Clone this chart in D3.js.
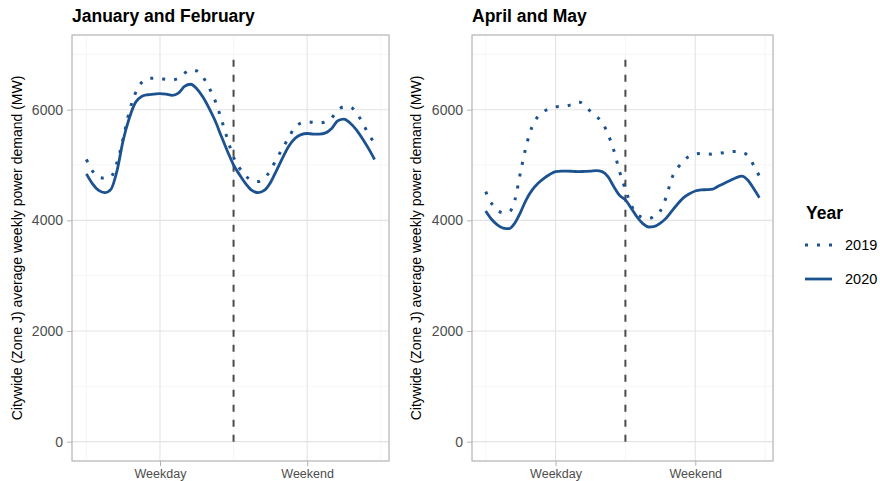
<!DOCTYPE html>
<html>
<head>
<meta charset="utf-8">
<script src="https://cdn.jsdelivr.net/npm/d3@7"></script>
<style>
  html, body { margin: 0; padding: 0; background: #fff; }
  svg { display: block; font-family: "Liberation Sans", Arial, Helvetica, sans-serif; }
</style>
</head>
<body>
<svg id="chart" width="880" height="481"></svg>
<script>
// ---------------- DATA ----------------
const hours = d3.range(0, 48); // 0-23 weekday hours, 24-47 weekend hours
const panelTitles = ["January and February", "April and May"];
const years = ["2019", "2020"];
const xTickValues = [12, 36];
const xTickLabels = ["Weekday", "Weekend"];
const yTickValues = [0, 2000, 4000, 6000];
const dividerHour = 24;
const dividerTop = 7000;

const janFeb2019 = [5100, 4890, 4780, 4760, 4790, 5050, 5480, 5970, 6300, 6490, 6560, 6570,
  6560, 6550, 6540, 6570, 6660, 6720, 6700, 6590, 6400, 6160, 5830, 5470,
  5140, 4940, 4800, 4720, 4700, 4760, 4900, 5110, 5300, 5500, 5680, 5760,
  5780, 5770, 5760, 5780, 5850, 5990, 6050, 6050, 5950, 5770, 5560, 5400];
const janFeb2020 = [4840, 4660, 4540, 4500, 4560, 4900, 5450, 5850, 6130, 6240, 6270, 6280,
  6290, 6280, 6260, 6300, 6420, 6460, 6380, 6230, 6030, 5800, 5520, 5250,
  5000, 4820, 4660, 4540, 4500, 4540, 4680, 4900, 5130, 5340, 5480, 5550,
  5570, 5560, 5560, 5580, 5660, 5800, 5830, 5760, 5640, 5480, 5300, 5100];
const aprMay2019 = [4520, 4310, 4180, 4140, 4150, 4360, 4880, 5360, 5700, 5880, 5970, 6020,
  6050, 6060, 6070, 6100, 6140, 6080, 5970, 5880, 5770, 5560, 5270, 4880,
  4560, 4270, 4110, 4050, 4030, 4080, 4170, 4420, 4770, 4950, 5080, 5160,
  5200, 5210, 5200, 5195, 5210, 5225, 5240, 5245, 5230, 5170, 5000, 4800];
const aprMay2020 = [4170, 4020, 3920, 3860, 3850, 3950, 4150, 4380, 4550, 4670, 4760, 4830,
  4880, 4890, 4890, 4885, 4880, 4885, 4890, 4900, 4880, 4790, 4610, 4450,
  4370, 4220, 4060, 3940, 3880, 3890, 3950, 4040, 4170, 4300, 4410, 4480,
  4530, 4550, 4555, 4565, 4620, 4670, 4720, 4770, 4800, 4730, 4580, 4410];

// ---------------- STYLE / LAYOUT ----------------
const lineColor = "#1d5290";
const svg = d3.select("#chart");

const panels = [
  { title: panelTitles[0], series: [janFeb2019, janFeb2020], left: 72, right: 389, labelX: 17 },
  { title: panelTitles[1], series: [aprMay2019, aprMay2020], left: 472, right: 773, labelX: 416 }
];
const panelTop = 35, panelBottom = 461;
const xDomain = [-2.35, 49.35];
const yDomain = [-350, 7350];

panels.forEach(p => {
  const x = d3.scaleLinear().domain(xDomain).range([p.left, p.right]);
  const y = d3.scaleLinear().domain(yDomain).range([panelBottom, panelTop]);
  const g = svg.append("g");

  // minor grid
  [1000, 3000, 5000, 7000].forEach(v => {
    g.append("line").attr("x1", p.left).attr("x2", p.right)
      .attr("y1", y(v)).attr("y2", y(v))
      .attr("stroke", "#f0f0f0").attr("stroke-width", 0.6);
  });
  [0, 24, 48].forEach(v => {
    g.append("line").attr("y1", panelTop).attr("y2", panelBottom)
      .attr("x1", x(v)).attr("x2", x(v))
      .attr("stroke", "#f0f0f0").attr("stroke-width", 0.6);
  });
  // major grid
  yTickValues.forEach(v => {
    g.append("line").attr("x1", p.left).attr("x2", p.right)
      .attr("y1", y(v)).attr("y2", y(v))
      .attr("stroke", "#e3e3e3").attr("stroke-width", 1.1);
  });
  xTickValues.forEach(v => {
    g.append("line").attr("y1", panelTop).attr("y2", panelBottom)
      .attr("x1", x(v)).attr("x2", x(v))
      .attr("stroke", "#e3e3e3").attr("stroke-width", 1.1);
  });

  // axes
  const yAxis = d3.axisLeft(y).tickValues(yTickValues).tickSize(5).tickPadding(4).tickFormat(d3.format("d"));
  const ya = g.append("g").attr("transform", `translate(${p.left},0)`).call(yAxis);
  ya.select(".domain").remove();
  ya.selectAll(".tick line").attr("stroke", "#b3b3b3");
  ya.selectAll(".tick text").attr("fill", "#4d4d4d").style("font-size", "14px");

  const xAxis = d3.axisBottom(x).tickValues(xTickValues).tickSize(5).tickPadding(3)
    .tickFormat((d, i) => xTickLabels[i]);
  const xa = g.append("g").attr("transform", `translate(0,${panelBottom})`).call(xAxis);
  xa.select(".domain").remove();
  xa.selectAll(".tick line").attr("stroke", "#b3b3b3");
  xa.selectAll(".tick text").attr("fill", "#4d4d4d").style("font-size", "12.5px");

  // divider
  g.append("line").attr("x1", x(dividerHour)).attr("x2", x(dividerHour))
    .attr("y1", y(0)).attr("y2", y(dividerTop))
    .attr("stroke", "#4a4a4a").attr("stroke-width", 2).attr("stroke-dasharray", "7 8");

  // lines
  const line = d3.line().x((d, i) => x(hours[i])).y(d => y(d)).curve(d3.curveMonotoneX);
  g.append("path").datum(p.series[0]).attr("d", line)
    .attr("fill", "none").attr("stroke", lineColor).attr("stroke-width", 3)
    .attr("stroke-dasharray", "3 9");
  g.append("path").datum(p.series[1]).attr("d", line)
    .attr("fill", "none").attr("stroke", lineColor).attr("stroke-width", 2.8)
    .attr("stroke-linejoin", "round");

  // border
  g.append("rect").attr("x", p.left).attr("y", panelTop)
    .attr("width", p.right - p.left).attr("height", panelBottom - panelTop)
    .attr("fill", "none").attr("stroke", "#b3b3b3").attr("stroke-width", 1.2);

  // title
  g.append("text").attr("x", p.left).attr("y", 22)
    .attr("font-weight", "bold").attr("font-size", "17.5px").attr("fill", "#000")
    .text(p.title);

  // y axis title
  g.append("text")
    .attr("transform", `translate(${p.labelX},${(panelTop + panelBottom) / 2}) rotate(-90)`)
    .attr("text-anchor", "middle").attr("dominant-baseline", "central")
    .attr("font-size", "14px").attr("fill", "#000")
    .text("Citywide (Zone J) average weekly power demand (MW)");
});

// ---------------- LEGEND ----------------
const lg = svg.append("g");
lg.append("text").attr("x", 806).attr("y", 219)
  .attr("font-weight", "bold").attr("font-size", "17.5px").attr("fill", "#000").text("Year");
const keyYs = [245, 279];
years.forEach((yr, i) => {
  lg.append("line").attr("x1", 805).attr("x2", 832).attr("y1", keyYs[i]).attr("y2", keyYs[i])
    .attr("stroke", lineColor).attr("stroke-width", i === 0 ? 3 : 2.8)
    .attr("stroke-dasharray", i === 0 ? "3 9" : null);
  lg.append("text").attr("x", 845).attr("y", keyYs[i]).attr("dominant-baseline", "central")
    .attr("font-size", "14.5px").attr("fill", "#000").text(yr);
});
</script>
</body>
</html>
